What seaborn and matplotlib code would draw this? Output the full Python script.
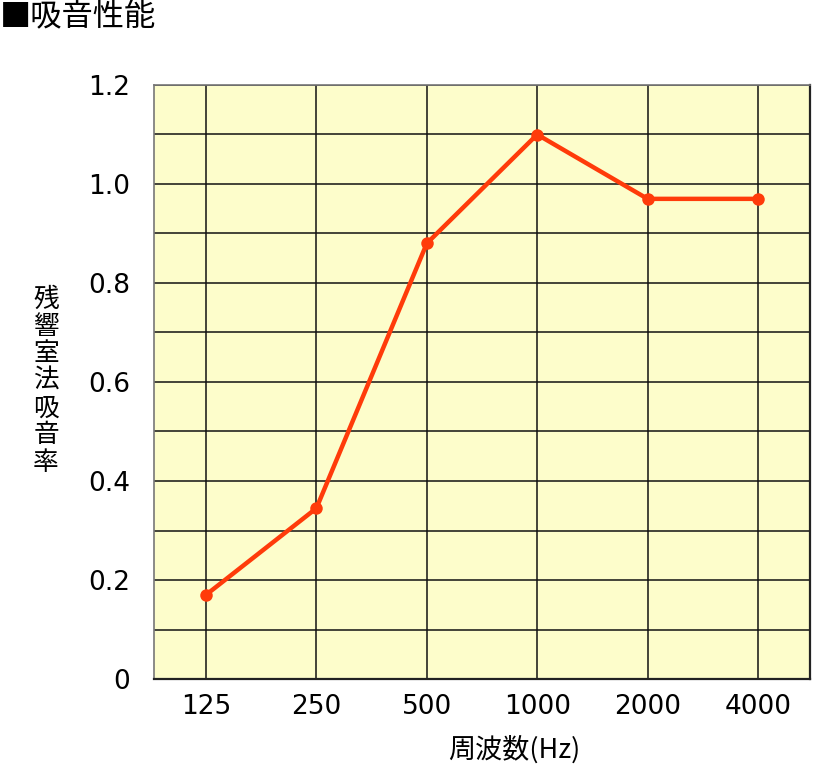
import numpy as np
import pandas as pd
import matplotlib
matplotlib.use("Agg")
import matplotlib.pyplot as plt
import seaborn as sns

# Data
frequencies = ["125", "250", "500", "1000", "2000", "4000"]
absorption = [0.17, 0.345, 0.88, 1.10, 0.97, 0.97]
y_ticks = [0, 0.2, 0.4, 0.6, 0.8, 1.0, 1.2]
y_tick_labels = ["0", "0.2", "0.4", "0.6", "0.8", "1.0", "1.2"]

sns.set_style("white")
plt.rcParams['font.family'] = ['Noto Sans CJK JP', 'DejaVu Sans']
plt.rcParams['text.color'] = 'black'
plt.rcParams['xtick.color'] = 'black'
plt.rcParams['ytick.color'] = 'black'

df = pd.DataFrame({"pos": np.arange(len(frequencies)), "value": absorption})

fig = plt.figure(figsize=(8.13, 7.64), dpi=100)
ax = fig.add_axes([154 / 813, 1 - 679 / 764, (810 - 154) / 813, (679 - 85) / 764])
ax.set_facecolor("#FDFDCB")

sns.lineplot(data=df, x="pos", y="value", ax=ax, color="#FF3B0A", linewidth=3.2,
             marker="o", markersize=9, markeredgewidth=0, zorder=5)

ax.set_xlim(-0.471, 5.471)
ax.set_ylim(0, 1.2)
ax.set_xticks(df["pos"])
ax.set_xticklabels(frequencies, fontsize=19, family="DejaVu Sans")
ax.set_yticks(y_ticks)
ax.set_yticklabels(y_tick_labels, fontsize=19, family="DejaVu Sans")
ax.set_yticks(np.arange(0.1, 1.2, 0.2), minor=True)
ax.tick_params(axis="both", which="both", length=0)
ax.tick_params(axis="y", pad=17)
ax.tick_params(axis="x", pad=11)

ax.grid(True, which="both", axis="y", color="#111111", linewidth=1.1)
ax.grid(True, which="major", axis="x", color="#111111", linewidth=1.1)
ax.set_axisbelow(True)

for side in ["top", "left"]:
    ax.spines[side].set_color("#777777")
    ax.spines[side].set_linewidth(1.2)
for side in ["right", "bottom"]:
    ax.spines[side].set_color("#222222")
    ax.spines[side].set_linewidth(1.6)

ax.set_xlabel("")
ax.set_ylabel("")

fig.text(0.0, 1 - 17 / 764, "■吸音性能", fontsize=22.5, ha="left", va="center")
fig.text(46 / 813, 1 - 381 / 764, "\n".join("残響室法吸音率"), fontsize=18.5,
         ha="center", va="center", linespacing=1.06)
fig.text(514 / 813, 1 - 750 / 764, "周波数(Hz)", fontsize=19.5, ha="center", va="center")

fig.savefig("out.png", dpi=100)
